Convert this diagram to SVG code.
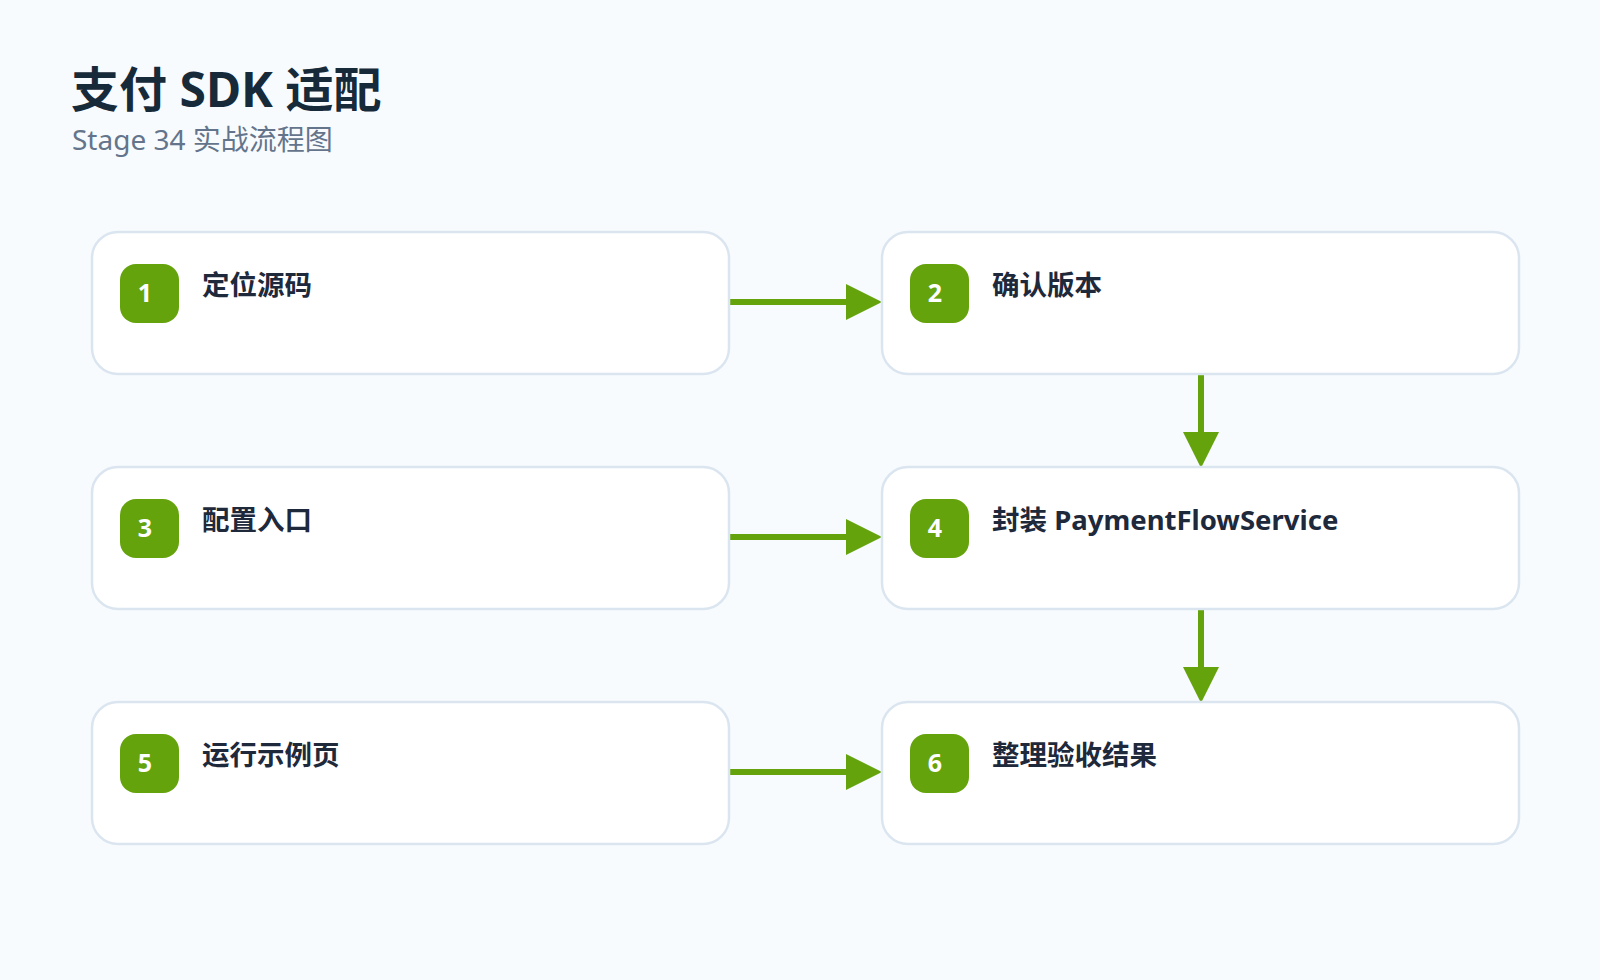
<svg xmlns="http://www.w3.org/2000/svg" width="1600" height="980" viewBox="0 0 1600 980">
<style>
.box{fill:#fff;stroke:#dbe5f0;stroke-width:2.5}
.badge{fill:#65a30d}
.num{font-family:"Noto Sans","Noto Sans CJK SC",sans-serif;font-weight:700;font-size:25px;fill:#fff;text-anchor:middle}
.lbl{font-family:"Noto Sans","Noto Sans CJK SC",sans-serif;font-weight:700;font-size:27.5px;fill:#1e293b}
.con{stroke:#65a30d;stroke-width:6;fill:none}
</style>
<defs><marker id="a" markerWidth="6" markerHeight="6" refX="5" refY="3" orient="auto" markerUnits="strokeWidth"><path d="M0,0L6,3L0,6z" fill="#65a30d"/></marker></defs>
<rect width="1600" height="980" fill="#f7fbfe"/>
<text x="71" y="107" font-family="'Noto Sans','Noto Sans CJK SC',sans-serif" font-weight="700" font-size="48" fill="#172a3a">支付 SDK 适配</text>
<text x="72" y="150" font-family="'Noto Sans','Noto Sans CJK SC',sans-serif" font-size="28" fill="#64748b">Stage 34 实战流程图</text>
<g id="connectors">
<line class="con" x1="729" y1="302" x2="876" y2="302" marker-end="url(#a)"/>
<line class="con" x1="729" y1="537" x2="876" y2="537" marker-end="url(#a)"/>
<line class="con" x1="729" y1="772" x2="876" y2="772" marker-end="url(#a)"/>
<line class="con" x1="1201" y1="374" x2="1201" y2="462" marker-end="url(#a)"/>
<line class="con" x1="1201" y1="609" x2="1201" y2="697" marker-end="url(#a)"/>
</g>
<g id="n1"><rect class="box" x="92" y="232" width="637" height="142" rx="26"/><rect class="badge" x="120" y="264" width="59" height="59" rx="16"/><text class="num" x="145" y="302">1</text><text class="lbl" x="202" y="295">定位源码</text></g>
<g id="n2"><rect class="box" x="882" y="232" width="637" height="142" rx="26"/><rect class="badge" x="910" y="264" width="59" height="59" rx="16"/><text class="num" x="935" y="302">2</text><text class="lbl" x="992" y="295">确认版本</text></g>
<g id="n3"><rect class="box" x="92" y="467" width="637" height="142" rx="26"/><rect class="badge" x="120" y="499" width="59" height="59" rx="16"/><text class="num" x="145" y="537">3</text><text class="lbl" x="202" y="530">配置入口</text></g>
<g id="n4"><rect class="box" x="882" y="467" width="637" height="142" rx="26"/><rect class="badge" x="910" y="499" width="59" height="59" rx="16"/><text class="num" x="935" y="537">4</text><text class="lbl" x="992" y="530">封装 PaymentFlowService</text></g>
<g id="n5"><rect class="box" x="92" y="702" width="637" height="142" rx="26"/><rect class="badge" x="120" y="734" width="59" height="59" rx="16"/><text class="num" x="145" y="772">5</text><text class="lbl" x="202" y="765">运行示例页</text></g>
<g id="n6"><rect class="box" x="882" y="702" width="637" height="142" rx="26"/><rect class="badge" x="910" y="734" width="59" height="59" rx="16"/><text class="num" x="935" y="772">6</text><text class="lbl" x="992" y="765">整理验收结果</text></g>
</svg>
